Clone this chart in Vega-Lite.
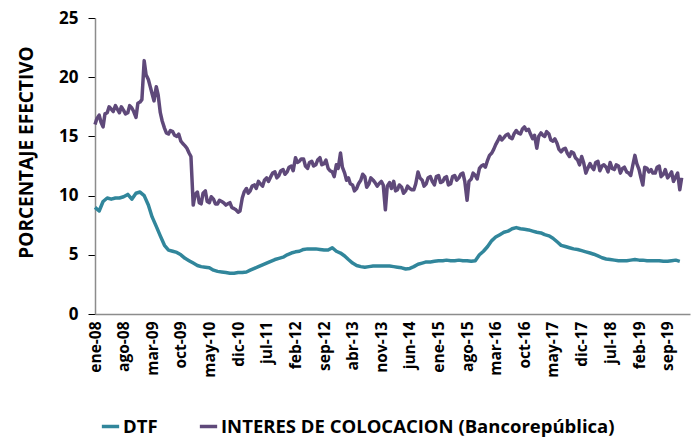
{
  "$schema": "https://vega.github.io/schema/vega-lite/v6.json",
  "autosize": {"type": "none"},
  "padding": {"left": 95, "top": 18, "right": 4, "bottom": 125},
  "width": 595,
  "height": 296,
  "background": "white",
  "config": {"view": {"stroke": null}, "font": "Open Sans"},
  "data": {"values": [
    {"d":"2008-01-01","dtf":9.0,"ic":16.0},{"d":"2008-02-01","dtf":8.7,"ic":16.8},{"d":"2008-03-01","dtf":9.5,"ic":15.8},{"d":"2008-04-01","dtf":9.8,"ic":17.0},{"d":"2008-05-01","dtf":9.7,"ic":17.3},{"d":"2008-06-01","dtf":9.8,"ic":17.6},{"d":"2008-07-01","dtf":9.8,"ic":17.0},{"d":"2008-08-01","dtf":9.9,"ic":17.2},{"d":"2008-09-01","dtf":10.1,"ic":17.0},{"d":"2008-10-01","dtf":9.7,"ic":17.4},{"d":"2008-11-01","dtf":10.2,"ic":16.6},{"d":"2008-12-01","dtf":10.3,"ic":17.9},
    {"d":"2009-01-01","dtf":10.0,"ic":21.4},{"d":"2009-02-01","dtf":9.2,"ic":19.8},{"d":"2009-03-01","dtf":8.2,"ic":18.6},{"d":"2009-04-01","dtf":7.4,"ic":19.2},{"d":"2009-05-01","dtf":6.6,"ic":17.0},{"d":"2009-06-01","dtf":5.8,"ic":15.7},{"d":"2009-07-01","dtf":5.4,"ic":15.2},{"d":"2009-08-01","dtf":5.3,"ic":15.4},{"d":"2009-09-01","dtf":5.2,"ic":15.0},{"d":"2009-10-01","dtf":5.0,"ic":14.6},{"d":"2009-11-01","dtf":4.7,"ic":14.2},{"d":"2009-12-01","dtf":4.5,"ic":13.6},
    {"d":"2010-01-01","dtf":4.3,"ic":9.2},{"d":"2010-02-01","dtf":4.1,"ic":10.3},{"d":"2010-03-01","dtf":4.0,"ic":9.3},{"d":"2010-04-01","dtf":3.95,"ic":10.4},{"d":"2010-05-01","dtf":3.9,"ic":9.4},{"d":"2010-06-01","dtf":3.7,"ic":9.7},{"d":"2010-07-01","dtf":3.6,"ic":9.3},{"d":"2010-08-01","dtf":3.55,"ic":9.5},{"d":"2010-09-01","dtf":3.5,"ic":9.2},{"d":"2010-10-01","dtf":3.45,"ic":9.4},{"d":"2010-11-01","dtf":3.45,"ic":8.9},{"d":"2010-12-01","dtf":3.5,"ic":8.6},
    {"d":"2011-01-01","dtf":3.5,"ic":9.8},{"d":"2011-02-01","dtf":3.55,"ic":10.6},{"d":"2011-03-01","dtf":3.7,"ic":10.4},{"d":"2011-04-01","dtf":3.85,"ic":10.9},{"d":"2011-05-01","dtf":4.0,"ic":11.2},{"d":"2011-06-01","dtf":4.15,"ic":10.8},{"d":"2011-07-01","dtf":4.3,"ic":11.5},{"d":"2011-08-01","dtf":4.45,"ic":11.6},{"d":"2011-09-01","dtf":4.6,"ic":12.0},{"d":"2011-10-01","dtf":4.7,"ic":11.7},{"d":"2011-11-01","dtf":4.8,"ic":12.2},{"d":"2011-12-01","dtf":5.0,"ic":12.0},
    {"d":"2012-01-01","dtf":5.15,"ic":12.5},{"d":"2012-02-01","dtf":5.25,"ic":13.2},{"d":"2012-03-01","dtf":5.3,"ic":12.9},{"d":"2012-04-01","dtf":5.45,"ic":13.1},{"d":"2012-05-01","dtf":5.5,"ic":12.3},{"d":"2012-06-01","dtf":5.5,"ic":12.9},{"d":"2012-07-01","dtf":5.5,"ic":12.6},{"d":"2012-08-01","dtf":5.45,"ic":13.2},{"d":"2012-09-01","dtf":5.4,"ic":12.7},{"d":"2012-10-01","dtf":5.4,"ic":12.3},{"d":"2012-11-01","dtf":5.6,"ic":12.0},{"d":"2012-12-01","dtf":5.3,"ic":12.6},
    {"d":"2013-01-01","dtf":5.15,"ic":13.6},{"d":"2013-02-01","dtf":4.9,"ic":11.9},{"d":"2013-03-01","dtf":4.6,"ic":11.5},{"d":"2013-04-01","dtf":4.3,"ic":10.9},{"d":"2013-05-01","dtf":4.1,"ic":10.6},{"d":"2013-06-01","dtf":4.0,"ic":11.3},{"d":"2013-07-01","dtf":3.95,"ic":11.6},{"d":"2013-08-01","dtf":4.0,"ic":11.0},{"d":"2013-09-01","dtf":4.05,"ic":11.3},{"d":"2013-10-01","dtf":4.05,"ic":10.8},{"d":"2013-11-01","dtf":4.05,"ic":11.2},{"d":"2013-12-01","dtf":4.05,"ic":8.8},
    {"d":"2014-01-01","dtf":4.05,"ic":11.1},{"d":"2014-02-01","dtf":4.0,"ic":11.2},{"d":"2014-03-01","dtf":3.95,"ic":10.5},{"d":"2014-04-01","dtf":3.9,"ic":10.7},{"d":"2014-05-01","dtf":3.8,"ic":10.4},{"d":"2014-06-01","dtf":3.85,"ic":10.6},{"d":"2014-07-01","dtf":4.0,"ic":10.5},{"d":"2014-08-01","dtf":4.2,"ic":12.0},{"d":"2014-09-01","dtf":4.3,"ic":11.3},{"d":"2014-10-01","dtf":4.4,"ic":11.0},{"d":"2014-11-01","dtf":4.4,"ic":11.6},{"d":"2014-12-01","dtf":4.45,"ic":10.9},
    {"d":"2015-01-01","dtf":4.5,"ic":11.7},{"d":"2015-02-01","dtf":4.5,"ic":11.2},{"d":"2015-03-01","dtf":4.55,"ic":11.6},{"d":"2015-04-01","dtf":4.5,"ic":11.0},{"d":"2015-05-01","dtf":4.5,"ic":11.7},{"d":"2015-06-01","dtf":4.55,"ic":11.5},{"d":"2015-07-01","dtf":4.5,"ic":11.9},{"d":"2015-08-01","dtf":4.5,"ic":9.6},{"d":"2015-09-01","dtf":4.45,"ic":11.4},{"d":"2015-10-01","dtf":4.5,"ic":11.7},{"d":"2015-11-01","dtf":5.0,"ic":12.3},{"d":"2015-12-01","dtf":5.3,"ic":12.6},
    {"d":"2016-01-01","dtf":5.7,"ic":13.0},{"d":"2016-02-01","dtf":6.2,"ic":13.6},{"d":"2016-03-01","dtf":6.5,"ic":14.3},{"d":"2016-04-01","dtf":6.7,"ic":15.0},{"d":"2016-05-01","dtf":6.9,"ic":14.9},{"d":"2016-06-01","dtf":7.0,"ic":15.2},{"d":"2016-07-01","dtf":7.2,"ic":14.8},{"d":"2016-08-01","dtf":7.3,"ic":15.5},{"d":"2016-09-01","dtf":7.2,"ic":15.2},{"d":"2016-10-01","dtf":7.15,"ic":15.8},{"d":"2016-11-01","dtf":7.1,"ic":15.6},{"d":"2016-12-01","dtf":7.0,"ic":14.8},
    {"d":"2017-01-01","dtf":6.9,"ic":14.0},{"d":"2017-02-01","dtf":6.85,"ic":15.3},{"d":"2017-03-01","dtf":6.7,"ic":15.0},{"d":"2017-04-01","dtf":6.6,"ic":15.2},{"d":"2017-05-01","dtf":6.4,"ic":14.6},{"d":"2017-06-01","dtf":6.1,"ic":14.4},{"d":"2017-07-01","dtf":5.8,"ic":13.7},{"d":"2017-08-01","dtf":5.7,"ic":14.0},{"d":"2017-09-01","dtf":5.6,"ic":13.3},{"d":"2017-10-01","dtf":5.5,"ic":13.6},{"d":"2017-11-01","dtf":5.45,"ic":13.0},{"d":"2017-12-01","dtf":5.35,"ic":13.3},
    {"d":"2018-01-01","dtf":5.25,"ic":11.9},{"d":"2018-02-01","dtf":5.15,"ic":12.7},{"d":"2018-03-01","dtf":5.05,"ic":12.2},{"d":"2018-04-01","dtf":4.9,"ic":12.9},{"d":"2018-05-01","dtf":4.75,"ic":12.5},{"d":"2018-06-01","dtf":4.65,"ic":12.4},{"d":"2018-07-01","dtf":4.6,"ic":12.8},{"d":"2018-08-01","dtf":4.55,"ic":12.2},{"d":"2018-09-01","dtf":4.5,"ic":12.5},{"d":"2018-10-01","dtf":4.5,"ic":12.3},{"d":"2018-11-01","dtf":4.5,"ic":12.0},{"d":"2018-12-01","dtf":4.55,"ic":11.7},
    {"d":"2019-01-01","dtf":4.6,"ic":13.4},{"d":"2019-02-01","dtf":4.55,"ic":12.2},{"d":"2019-03-01","dtf":4.55,"ic":10.9},{"d":"2019-04-01","dtf":4.5,"ic":12.3},{"d":"2019-05-01","dtf":4.5,"ic":12.2},{"d":"2019-06-01","dtf":4.5,"ic":11.9},{"d":"2019-07-01","dtf":4.5,"ic":12.5},{"d":"2019-08-01","dtf":4.45,"ic":11.8},{"d":"2019-09-01","dtf":4.45,"ic":11.5},{"d":"2019-10-01","dtf":4.5,"ic":12.0},{"d":"2019-11-01","dtf":4.55,"ic":11.6},{"d":"2019-12-01","dtf":4.45,"ic":10.5},
    {"d":"2008-01-15","ic":16.5},{"d":"2008-02-15","ic":16.2},{"d":"2008-03-15","ic":16.9},{"d":"2008-04-15","ic":17.5},{"d":"2008-05-15","ic":17.1},{"d":"2008-06-15","ic":17.3},{"d":"2008-07-15","ic":17.5},{"d":"2008-08-15","ic":16.9},{"d":"2008-09-15","ic":17.6},{"d":"2008-10-15","ic":17.1},{"d":"2008-11-15","ic":17.8},{"d":"2008-12-15","ic":18.1},
    {"d":"2009-01-15","ic":20.2},{"d":"2009-02-15","ic":19.2},{"d":"2009-03-15","ic":18.0},{"d":"2009-04-15","ic":18.5},{"d":"2009-05-15","ic":16.3},{"d":"2009-06-15","ic":15.3},{"d":"2009-07-15","ic":15.5},{"d":"2009-08-15","ic":15.1},{"d":"2009-09-15","ic":15.2},{"d":"2009-10-15","ic":14.4},{"d":"2009-11-15","ic":14.0},{"d":"2009-12-15","ic":13.3},
    {"d":"2010-01-15","ic":10.1},{"d":"2010-02-15","ic":9.4},{"d":"2010-03-15","ic":10.2},{"d":"2010-04-15","ic":9.5},{"d":"2010-05-15","ic":9.9},{"d":"2010-06-15","ic":9.3},{"d":"2010-07-15","ic":9.6},{"d":"2010-08-15","ic":9.4},{"d":"2010-09-15","ic":9.3},{"d":"2010-10-15","ic":9.0},{"d":"2010-11-15","ic":8.8},{"d":"2010-12-15","ic":8.7},
    {"d":"2011-01-15","ic":10.3},{"d":"2011-02-15","ic":10.2},{"d":"2011-03-15","ic":10.8},{"d":"2011-04-15","ic":10.6},{"d":"2011-05-15","ic":11.0},{"d":"2011-06-15","ic":11.3},{"d":"2011-07-15","ic":11.2},{"d":"2011-08-15","ic":11.9},{"d":"2011-09-15","ic":11.5},{"d":"2011-10-15","ic":12.1},{"d":"2011-11-15","ic":11.8},{"d":"2011-12-15","ic":12.4},
    {"d":"2012-01-15","ic":12.1},{"d":"2012-02-15","ic":12.8},{"d":"2012-03-15","ic":13.1},{"d":"2012-04-15","ic":12.5},{"d":"2012-05-15","ic":12.8},{"d":"2012-06-15","ic":12.5},{"d":"2012-07-15","ic":13.0},{"d":"2012-08-15","ic":12.6},{"d":"2012-09-15","ic":13.0},{"d":"2012-10-15","ic":12.1},{"d":"2012-11-15","ic":11.6},{"d":"2012-12-15","ic":12.3},
    {"d":"2013-01-15","ic":12.4},{"d":"2013-02-15","ic":11.3},{"d":"2013-03-15","ic":11.0},{"d":"2013-04-15","ic":10.4},{"d":"2013-05-15","ic":11.0},{"d":"2013-06-15","ic":11.8},{"d":"2013-07-15","ic":10.7},{"d":"2013-08-15","ic":11.5},{"d":"2013-09-15","ic":11.1},{"d":"2013-10-15","ic":11.0},{"d":"2013-11-15","ic":10.9},{"d":"2013-12-15","ic":10.8},
    {"d":"2014-01-15","ic":10.6},{"d":"2014-02-15","ic":10.4},{"d":"2014-03-15","ic":10.9},{"d":"2014-04-15","ic":10.2},{"d":"2014-05-15","ic":10.8},{"d":"2014-06-15","ic":10.5},{"d":"2014-07-15","ic":11.0},{"d":"2014-08-15","ic":11.5},{"d":"2014-09-15","ic":10.8},{"d":"2014-10-15","ic":11.5},{"d":"2014-11-15","ic":11.2},{"d":"2014-12-15","ic":11.6},
    {"d":"2015-01-15","ic":11.1},{"d":"2015-02-15","ic":11.5},{"d":"2015-03-15","ic":10.9},{"d":"2015-04-15","ic":11.6},{"d":"2015-05-15","ic":11.3},{"d":"2015-06-15","ic":11.8},{"d":"2015-07-15","ic":11.2},{"d":"2015-08-15","ic":11.2},{"d":"2015-09-15","ic":11.9},{"d":"2015-10-15","ic":11.4},{"d":"2015-11-15","ic":12.5},{"d":"2015-12-15","ic":12.4},
    {"d":"2016-01-15","ic":13.4},{"d":"2016-02-15","ic":13.9},{"d":"2016-03-15","ic":14.6},{"d":"2016-04-15","ic":14.7},{"d":"2016-05-15","ic":15.1},{"d":"2016-06-15","ic":14.9},{"d":"2016-07-15","ic":15.2},{"d":"2016-08-15","ic":15.3},{"d":"2016-09-15","ic":15.6},{"d":"2016-10-15","ic":15.5},{"d":"2016-11-15","ic":15.2},{"d":"2016-12-15","ic":15.1},
    {"d":"2017-01-15","ic":15.0},{"d":"2017-02-15","ic":15.1},{"d":"2017-03-15","ic":15.4},{"d":"2017-04-15","ic":14.7},{"d":"2017-05-15","ic":14.8},{"d":"2017-06-15","ic":13.9},{"d":"2017-07-15","ic":13.9},{"d":"2017-08-15","ic":13.6},{"d":"2017-09-15","ic":13.7},{"d":"2017-10-15","ic":13.2},{"d":"2017-11-15","ic":12.6},{"d":"2017-12-15","ic":12.8},
    {"d":"2018-01-15","ic":12.3},{"d":"2018-02-15","ic":12.4},{"d":"2018-03-15","ic":12.8},{"d":"2018-04-15","ic":12.1},{"d":"2018-05-15","ic":12.6},{"d":"2018-06-15","ic":12.0},{"d":"2018-07-15","ic":12.3},{"d":"2018-08-15","ic":12.6},{"d":"2018-09-15","ic":11.9},{"d":"2018-10-15","ic":12.4},{"d":"2018-11-15","ic":11.9},{"d":"2018-12-15","ic":12.5},
    {"d":"2019-01-15","ic":12.7},{"d":"2019-02-15","ic":11.5},{"d":"2019-03-15","ic":12.4},{"d":"2019-04-15","ic":12.0},{"d":"2019-05-15","ic":11.9},{"d":"2019-06-15","ic":12.4},{"d":"2019-07-15","ic":11.6},{"d":"2019-08-15","ic":12.2},{"d":"2019-09-15","ic":11.7},{"d":"2019-10-15","ic":11.2},{"d":"2019-11-15","ic":11.9},{"d":"2019-12-15","ic":11.5}
  ]},
  "transform": [
    {"fold": ["dtf", "ic"], "as": ["key", "value"]},
    {"filter": "isValid(datum.value)"},
    {"calculate": "datum.key === 'dtf' ? 'DTF' : 'INTERES DE COLOCACION (Bancorepública)'", "as": "serie"}
  ],
  "mark": {"type": "line", "strokeWidth": 3.5, "strokeJoin": "round"},
  "encoding": {
    "x": {
      "field": "d", "type": "temporal",
      "scale": {"domain": [{"year": 2008, "month": 1, "date": 1}, {"year": 2020, "month": 2, "date": 15}]},
      "axis": {
        "title": null,
        "grid": false,
        "ticks": false,
        "domainColor": "#8c8c8c",
        "domainWidth": 1.5,
        "labelAngle": 270,
        "labelPadding": 7,
        "labelFont": "Open Sans",
        "labelFontSize": 15.5,
        "labelFontWeight": "bold",
        "labelColor": "#000000",
        "labelOverlap": false,
        "values": [
          {"year": 2008, "month": 1, "date": 1}, {"year": 2008, "month": 8, "date": 1}, {"year": 2009, "month": 3, "date": 1},
          {"year": 2009, "month": 10, "date": 1}, {"year": 2010, "month": 5, "date": 1}, {"year": 2010, "month": 12, "date": 1},
          {"year": 2011, "month": 7, "date": 1}, {"year": 2012, "month": 2, "date": 1}, {"year": 2012, "month": 9, "date": 1},
          {"year": 2013, "month": 4, "date": 1}, {"year": 2013, "month": 11, "date": 1}, {"year": 2014, "month": 6, "date": 1},
          {"year": 2015, "month": 1, "date": 1}, {"year": 2015, "month": 8, "date": 1}, {"year": 2016, "month": 3, "date": 1},
          {"year": 2016, "month": 10, "date": 1}, {"year": 2017, "month": 5, "date": 1}, {"year": 2017, "month": 12, "date": 1},
          {"year": 2018, "month": 7, "date": 1}, {"year": 2019, "month": 2, "date": 1}, {"year": 2019, "month": 9, "date": 1}
        ],
        "labelExpr": "['ene','feb','mar','abr','may','jun','jul','ago','sep','oct','nov','dic'][month(datum.value)] + '-' + timeFormat(datum.value, '%y')"
      }
    },
    "y": {
      "field": "value", "type": "quantitative",
      "scale": {"domain": [0, 25], "nice": false},
      "axis": {
        "title": "PORCENTAJE EFECTIVO",
        "titleFont": "Open Sans",
        "titleFontSize": 19,
        "titleFontWeight": "bold",
        "titleColor": "#000000",
        "titlePadding": 22,
        "titleY": 134,
        "values": [0, 5, 10, 15, 20, 25],
        "grid": false,
        "domainColor": "#8c8c8c",
        "domainWidth": 1.5,
        "tickColor": "#000000",
        "tickSize": 7,
        "labelPadding": 10,
        "labelFont": "Open Sans",
        "labelFontSize": 17,
        "labelFontWeight": "bold",
        "labelColor": "#000000"
      }
    },
    "color": {
      "field": "serie", "type": "nominal",
      "scale": {"domain": ["DTF", "INTERES DE COLOCACION (Bancorepública)"], "range": ["#31869B", "#5F497A"]},
      "legend": {
        "title": null,
        "orient": "none",
        "direction": "horizontal",
        "legendX": 5,
        "legendY": 398,
        "symbolType": "stroke",
        "symbolSize": 300,
        "symbolStrokeWidth": 3.5,
        "labelFont": "Open Sans",
        "labelFontSize": 18.5,
        "labelFontWeight": "bold",
        "labelColor": "#000000",
        "labelLimit": 600,
        "labelOffset": 2,
        "columnPadding": 34
      }
    }
  }
}
